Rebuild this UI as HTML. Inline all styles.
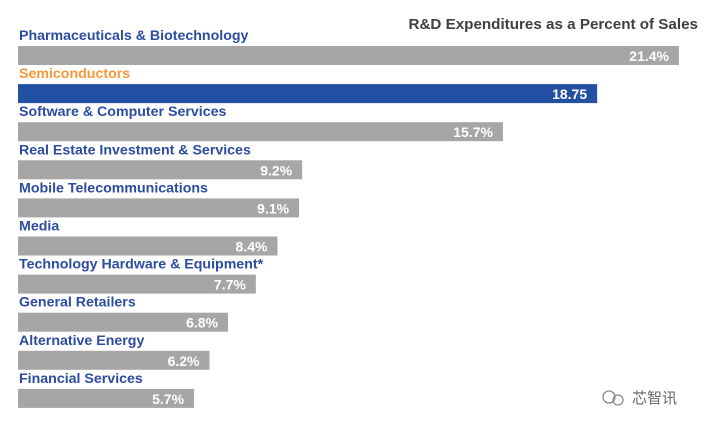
<!DOCTYPE html>
<html><head><meta charset="utf-8"><style>
body{margin:0;background:#fff;}
svg{display:block;font-family:"Liberation Sans","Noto Sans CJK SC",sans-serif;}
</style></head><body>
<svg id="chart" width="710" height="427" viewBox="0 0 710 427">
<text x="698" y="29" text-anchor="end" font-size="15.2" font-weight="bold" fill="#404040">R&amp;D Expenditures as a Percent of Sales</text>
<g id="bars"></g>
<g>
<circle cx="609" cy="397" r="6" fill="none" stroke="#888" stroke-width="1.3"/>
<circle cx="618" cy="400" r="5" fill="none" stroke="#888" stroke-width="1.3"/>
<text x="632" y="403" font-size="15" fill="#666">芯智讯</text>
</g>
</svg>
<script>
const categories = ["Pharmaceuticals & Biotechnology","Semiconductors","Software & Computer Services","Real Estate Investment & Services","Mobile Telecommunications","Media","Technology Hardware & Equipment*","General Retailers","Alternative Energy","Financial Services"];
const values = [21.4, 18.75, 15.7, 9.2, 9.1, 8.4, 7.7, 6.8, 6.2, 5.7];
const valueLabels = ["21.4%","18.75","15.7%","9.2%","9.1%","8.4%","7.7%","6.8%","6.2%","5.7%"];
const highlighted = [false, true, false, false, false, false, false, false, false, false];

const x0 = 18, pxPerUnit = 661/21.4;
const xScale = v => x0 + v * pxPerUnit;
const yScale = i => 46 + i * 38.1;
const ns = "http://www.w3.org/2000/svg";
const g = document.getElementById("bars");
categories.forEach((c, i) => {
  const y = yScale(i);
  const lbl = document.createElementNS(ns, "text");
  
  
  lbl.setAttribute("x", 19); lbl.setAttribute("y", y - 6);
  lbl.setAttribute("font-size", "14.2"); lbl.setAttribute("font-weight", "bold");
  lbl.setAttribute("fill", highlighted[i] ? "#f7963a" : "#2b4ca0");
  lbl.textContent = c; g.appendChild(lbl);
  const r = document.createElementNS(ns, "rect");
  
  
  const xe = xScale(values[i]);
  r.setAttribute("x", x0); r.setAttribute("y", y);
  r.setAttribute("width", xe - x0); r.setAttribute("height", 19);
  r.setAttribute("fill", highlighted[i] ? "#2450a4" : "#a6a6a6");
  g.appendChild(r);
  const v = document.createElementNS(ns, "text");
  
  
  v.setAttribute("x", xe - 10); v.setAttribute("y", y + 15);
  v.setAttribute("text-anchor", "end");
  v.setAttribute("font-size", "14"); v.setAttribute("font-weight", "bold");
  v.setAttribute("fill", "#fff");
  v.textContent = valueLabels[i]; g.appendChild(v);
});
</script>
</body></html>
